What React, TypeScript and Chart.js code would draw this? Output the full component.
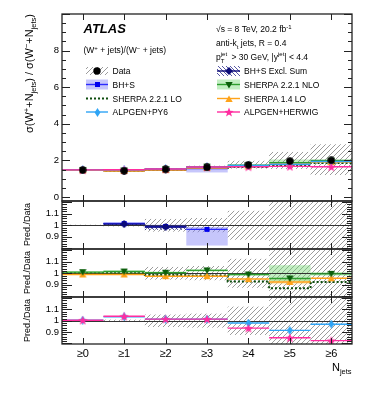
import React, { useEffect, useRef } from "react";
import { Chart, registerables } from "chart.js";

Chart.register(...registerables);

const FONT = "'Liberation Sans', Arial, Helvetica, sans-serif";
Chart.defaults.font.family = FONT;
Chart.defaults.color = "#000";

type V = number | null;

// ---------- categories and tick labels ----------
const categories = ["≥0", "≥1", "≥2", "≥3", "≥4", "≥5", "≥6"];
const mainTickLabels = [0, 2, 4, 6, 8];
const ratioTickLabels = [0.9, 1, 1.1];

// ---------- main panel: sigma(W+)/sigma(W-) ----------
const dataMain: V[] = [1.47, 1.43, 1.51, 1.62, 1.76, 1.96, 2.0];
const dataMainLo: V[] = [1.46, 1.41, 1.44, 1.53, 1.55, 1.53, 1.2];
const dataMainHi: V[] = [1.48, 1.45, 1.58, 1.71, 1.98, 2.46, 2.88];
const bhsMain: V[] = [null, 1.45, 1.5, 1.56, null, null, null];
const bhsMainLo: V[] = [null, 1.44, 1.48, 1.34, null, null, null];
const bhsMainHi: V[] = [null, 1.46, 1.52, 1.6, null, null, null];
const exclMain: V[] = [null, 1.44, 1.49, null, null, null, null];
const exclMainLo: V[] = [null, 1.43, 1.46, null, null, null, null];
const exclMainHi: V[] = [null, 1.46, 1.51, null, null, null, null];
const nloMain: V[] = [1.48, 1.45, 1.52, 1.66, 1.74, 1.87, 1.99];
const nloMainLo: V[] = [1.47, 1.44, 1.5, 1.64, 1.72, 1.8, 1.95];
const nloMainHi: V[] = [1.49, 1.46, 1.54, 1.68, 1.76, 2.05, 2.03];
const sherpaLoMain: V[] = [1.47, 1.43, 1.49, 1.59, 1.64, 1.71, 1.85];
const sherpa14Main: V[] = [1.46, 1.42, 1.47, 1.58, 1.67, 1.81, 1.91];
const py6Main: V[] = [1.48, 1.48, 1.53, 1.64, 1.72, 1.79, 1.94];
const herwigMain: V[] = [1.48, 1.49, 1.53, 1.64, 1.65, 1.67, 1.65];

// ---------- ratio panels: Pred./Data ----------
const dataRatioLo: V[] = [0.995, 0.99, 0.945, 0.94, 0.875, 0.7, 0.5];
const dataRatioHi: V[] = [1.005, 1.01, 1.055, 1.063, 1.125, 1.3, 1.5];
// panel 1
const bhsRatio: V[] = [null, 1.015, 0.99, 0.965, null, null, null];
const bhsRatioLo: V[] = [null, 1.005, 0.975, 0.825, null, null, null];
const bhsRatioHi: V[] = [null, 1.025, 1.005, 0.985, null, null, null];
const exclRatio: V[] = [null, 1.01, 0.985, null, null, null, null];
const exclRatioLo: V[] = [null, 1.0, 0.96, null, null, null, null];
const exclRatioHi: V[] = [null, 1.02, 1.0, null, null, null, null];
// panel 2
const nloRatio: V[] = [1.01, 1.015, 1.005, 1.025, 0.99, 0.955, 0.995];
const nloRatioLo: V[] = [1.0, 1.005, 0.995, 1.015, 0.98, 0.93, 0.98];
const nloRatioHi: V[] = [1.02, 1.025, 1.015, 1.035, 1.0, 1.07, 1.01];
const sherpaLoRatio: V[] = [1.0, 1.0, 0.985, 0.98, 0.93, 0.87, 0.925];
const sherpa14Ratio: V[] = [0.99, 0.99, 0.975, 0.975, 0.95, 0.925, 0.957];
const sherpa14RatioLo: V[] = [null, null, null, null, null, 0.905, null];
const sherpa14RatioHi: V[] = [null, null, null, null, null, 0.945, null];
// panel 3
const py6Ratio: V[] = [1.005, 1.035, 1.015, 1.015, 0.98, 0.915, 0.97];
const herwigRatio: V[] = [1.005, 1.04, 1.015, 1.015, 0.935, 0.85, 0.825];

// ---------- colours ----------
const C = {
  data: "#000000",
  bhs: "#2b2bff",
  bhsFill: "rgba(120,120,245,0.42)",
  excl: "#0a0a78",
  nlo: "#2e9e2e",
  nloMk: "#0b5e0b",
  nloFill: "rgba(110,215,110,0.42)",
  sLo: "#0d4d0d",
  s14: "#ffa31a",
  s14Fill: "rgba(255,200,90,0.35)",
  py6: "#2fa4f5",
  her: "#ff2da0",
};

// ---------- helpers ----------
function segs(vals: V[]) {
  const out: any[] = [];
  vals.forEach((v, i) => {
    if (v == null) return;
    out.push({ x: i - 0.5, y: v }, { x: i + 0.5, y: v }, { x: i + 0.5, y: null });
  });
  return out;
}
function steps(vals: V[]) {
  const out: any[] = [];
  vals.forEach((v, i) => {
    if (v == null) return;
    out.push({ x: i - 0.5, y: v }, { x: i + 0.5, y: v });
  });
  return out;
}
function pts(vals: V[]) {
  const out: any[] = [];
  vals.forEach((v, i) => {
    if (v != null) out.push({ x: i, y: v });
  });
  return out;
}
function lineDS(data: any[], color: string, width = 1.4, dash: number[] = []) {
  return {
    type: "line",
    data,
    borderColor: color,
    borderWidth: width,
    borderDash: dash,
    pointRadius: 0,
    fill: false,
    tension: 0,
    spanGaps: false,
  };
}
function markDS(vals: V[], img: HTMLCanvasElement) {
  return {
    type: "line",
    data: pts(vals),
    showLine: false,
    pointStyle: img,
    pointRadius: 4,
    borderWidth: 0,
  };
}

function makeMarker(kind: string, color: string, size: number): HTMLCanvasElement {
  const c = document.createElement("canvas");
  c.width = size;
  c.height = size;
  const g = c.getContext("2d")!;
  const h = size / 2;
  g.fillStyle = color;
  g.beginPath();
  if (kind === "circle") g.arc(h, h, h - 0.3, 0, Math.PI * 2);
  else if (kind === "square") g.rect(1, 1, size - 2, size - 2);
  else if (kind === "diamond") {
    g.moveTo(h, 0); g.lineTo(size, h); g.lineTo(h, size); g.lineTo(0, h); g.closePath();
  } else if (kind === "thin") {
    g.moveTo(h, 0); g.lineTo(h + size * 0.32, h); g.lineTo(h, size); g.lineTo(h - size * 0.32, h); g.closePath();
  } else if (kind === "up") {
    g.moveTo(h, 0.5); g.lineTo(size - 0.3, size - 1); g.lineTo(0.3, size - 1); g.closePath();
  } else if (kind === "down") {
    g.moveTo(0.3, 1); g.lineTo(size - 0.3, 1); g.lineTo(h, size - 0.5); g.closePath();
  } else if (kind === "star") {
    for (let k = 0; k < 10; k++) {
      const r = k % 2 === 0 ? h : h * 0.42;
      const a = -Math.PI / 2 + (k * Math.PI) / 5;
      const px = h + r * Math.cos(a);
      const py = h + 0.5 + r * Math.sin(a);
      if (k === 0) g.moveTo(px, py); else g.lineTo(px, py);
    }
    g.closePath();
  }
  g.fill();
  return c;
}

function makeHatch(color: string, tile: number, back: boolean, lw: number): CanvasPattern {
  const c = document.createElement("canvas");
  c.width = tile;
  c.height = tile;
  const g = c.getContext("2d")!;
  g.strokeStyle = color;
  g.lineWidth = lw;
  g.beginPath();
  if (!back) {
    g.moveTo(-1, tile + 1); g.lineTo(tile + 1, -1);
    g.moveTo(-1, 1); g.lineTo(1, -1);
    g.moveTo(tile - 1, tile + 1); g.lineTo(tile + 1, tile - 1);
  } else {
    g.moveTo(-1, -1); g.lineTo(tile + 1, tile + 1);
    g.moveTo(tile - 1, -1); g.lineTo(tile + 1, 1);
    g.moveTo(-1, tile - 1); g.lineTo(1, tile + 1);
  }
  g.stroke();
  const ctx = document.createElement("canvas").getContext("2d")!;
  return ctx.createPattern(c, "repeat")!;
}

type Part = { t: string; s: number; dy?: number; adv?: boolean; st?: string };
function rich(ctx: CanvasRenderingContext2D, x: number, y: number, parts: Part[]) {
  let cx = x;
  for (const p of parts) {
    ctx.font = `${p.st || ""}${p.s}px ${FONT}`;
    ctx.fillText(p.t, cx, y + (p.dy || 0));
    if (p.adv !== false) cx += ctx.measureText(p.t).width;
  }
}
function richWidth(ctx: CanvasRenderingContext2D, parts: Part[]) {
  let w = 0;
  for (const p of parts) {
    ctx.font = `${p.st || ""}${p.s}px ${FONT}`;
    if (p.adv !== false) w += ctx.measureText(p.t).width;
  }
  return w;
}
function rotTitle(ctx: CanvasRenderingContext2D, bx: number, topY: number, parts: Part[]) {
  ctx.save();
  ctx.translate(bx, topY);
  ctx.rotate(-Math.PI / 2);
  ctx.textAlign = "left";
  ctx.textBaseline = "alphabetic";
  ctx.fillStyle = "#000";
  const w = richWidth(ctx, parts);
  rich(ctx, -w, 0, parts);
  ctx.restore();
}

type Band = { lo: V[]; hi: V[]; fill: any };
type Panel = {
  padTop: number;
  padBottom: number;
  yMin: number;
  yMax: number;
  labels: number[];
  fmt: (v: number) => string;
  majorStep: number;
  minorStep: number;
  majorLen: number;
  minorLen: number;
  xTickLen: number;
  bands: Band[];
  unity: boolean;
  datasets: any[];
  bottom: boolean;
  extra?: (ctx: CanvasRenderingContext2D, chart: any) => void;
};

function buildChart(canvas: HTMLCanvasElement, p: Panel) {
  const decor = {
    id: "decor",
    beforeDatasetsDraw(chart: any) {
      const { ctx, chartArea: a } = chart;
      const x = chart.scales.x;
      const y = chart.scales.y;
      ctx.save();
      ctx.beginPath();
      ctx.rect(a.left, a.top, a.right - a.left, a.bottom - a.top);
      ctx.clip();
      for (const b of p.bands) {
        ctx.fillStyle = b.fill;
        b.lo.forEach((lo, i) => {
          const hi = b.hi[i];
          if (lo == null || hi == null) return;
          const x0 = x.getPixelForValue(i - 0.5);
          const x1 = x.getPixelForValue(i + 0.5);
          const y0 = y.getPixelForValue(hi);
          const y1 = y.getPixelForValue(lo);
          ctx.fillRect(x0, y0, x1 - x0, y1 - y0);
        });
      }
      if (p.unity) {
        const py = Math.round(y.getPixelForValue(1)) + 0.5;
        ctx.strokeStyle = "#333";
        ctx.lineWidth = 1;
        ctx.beginPath();
        ctx.moveTo(a.left, py);
        ctx.lineTo(a.right, py);
        ctx.stroke();
      }
      ctx.restore();
    },
    afterDatasetsDraw(chart: any) {
      const { ctx, chartArea: a } = chart;
      const x = chart.scales.x;
      const y = chart.scales.y;
      ctx.save();
      ctx.strokeStyle = "#222";
      ctx.lineWidth = 1;
      ctx.beginPath();
      categories.forEach((_, i) => {
        const px = Math.round(x.getPixelForValue(i)) + 0.5;
        ctx.moveTo(px, a.bottom);
        ctx.lineTo(px, a.bottom - p.xTickLen);
        ctx.moveTo(px, a.top);
        ctx.lineTo(px, a.top + p.xTickLen);
      });
      const start = Math.ceil(p.yMin / p.minorStep - 1e-6);
      const end = Math.floor(p.yMax / p.minorStep + 1e-6);
      for (let k = start; k <= end; k++) {
        const v = k * p.minorStep;
        const isMajor = Math.abs(v / p.majorStep - Math.round(v / p.majorStep)) < 1e-6;
        const len = isMajor ? p.majorLen : p.minorLen;
        const py = Math.round(y.getPixelForValue(v)) + 0.5;
        if (py < a.top || py > a.bottom) continue;
        ctx.moveTo(a.left, py);
        ctx.lineTo(a.left + len, py);
        ctx.moveTo(a.right, py);
        ctx.lineTo(a.right - len, py);
      }
      ctx.stroke();
      ctx.lineWidth = 1.3;
      ctx.strokeRect(a.left, a.top, a.right - a.left, a.bottom - a.top);
      ctx.restore();
    },
    afterDraw(chart: any) {
      if (p.extra) {
        const ctx = chart.ctx;
        ctx.save();
        p.extra(ctx, chart);
        ctx.restore();
      }
    },
  };

  return new Chart(canvas, {
    type: "line",
    data: { datasets: p.datasets.slice().reverse() as any },
    plugins: [decor],
    options: {
      responsive: false,
      animation: false,
      devicePixelRatio: 1,
      events: [],
      layout: { padding: { left: 0, right: 22, top: p.padTop, bottom: p.padBottom } },
      plugins: { legend: { display: false }, tooltip: { enabled: false } },
      scales: {
        x: {
          type: "linear",
          min: -0.5,
          max: 6.5,
          display: p.bottom,
          grid: { display: false, drawTicks: false },
          border: { display: false },
          afterBuildTicks: (s: any) => {
            s.ticks = categories.map((_, i) => ({ value: i }));
          },
          afterFit: (s: any) => {
            if (p.bottom) s.height = 30;
          },
          ticks: {
            autoSkip: false,
            maxRotation: 0,
            padding: 3,
            font: { size: 11, family: FONT },
            color: "#000",
            callback: (v: any) => categories[Math.round(Number(v))] ?? "",
          },
        },
        y: {
          type: "linear",
          min: p.yMin,
          max: p.yMax,
          grid: { display: false, drawTicks: false },
          border: { display: false },
          afterBuildTicks: (s: any) => {
            s.ticks = p.labels.map((v) => ({ value: v }));
          },
          afterFit: (s: any) => {
            s.width = 62;
          },
          ticks: {
            autoSkip: false,
            padding: 3,
            font: { size: 9.5, family: FONT },
            color: "#000",
            callback: (v: any) => p.fmt(Number(v)),
          },
        },
      },
    } as any,
  });
}

export default function App() {
  const r0 = useRef<HTMLCanvasElement>(null);
  const r1 = useRef<HTMLCanvasElement>(null);
  const r2 = useRef<HTMLCanvasElement>(null);
  const r3 = useRef<HTMLCanvasElement>(null);

  useEffect(() => {
    const hatch = makeHatch("#666666", 5, false, 0.65);
    const navyHatch = makeHatch("#101080", 4, true, 0.7);
    const mk = {
      data: makeMarker("circle", C.data, 8),
      bhs: makeMarker("square", "#0000ee", 7),
      excl: makeMarker("diamond", C.excl, 8),
      nlo: makeMarker("down", C.nloMk, 8),
      s14: makeMarker("up", C.s14, 8),
      py6: makeMarker("thin", C.py6, 9),
      her: makeMarker("star", C.her, 10),
    };
    const ratioFmt = (v: number) => (Math.abs(v - 1) < 1e-6 ? "1" : v.toFixed(1));

    const common = {
      majorStep: 0.1,
      minorStep: 0.02,
      majorLen: 10,
      minorLen: 5,
      xTickLen: 6,
      yMin: 0.795,
      yMax: 1.21,
      labels: ratioTickLabels,
      fmt: ratioFmt,
      unity: true,
    };

    const predTitle = (top: number) => (ctx: CanvasRenderingContext2D) => {
      rotTitle(ctx, 29.5, top + 2, [{ t: "Pred./Data", s: 9 }]);
    };

    const mainExtra = (ctx: CanvasRenderingContext2D) => {
      ctx.fillStyle = "#000";
      ctx.textAlign = "left";
      ctx.textBaseline = "alphabetic";
      rotTitle(ctx, 33, 14, [
        { t: "σ(W", s: 11 },
        { t: "+", s: 7.5, dy: -4.5 },
        { t: "+N", s: 11 },
        { t: "jets", s: 7.5, dy: 2.5 },
        { t: ") / σ(W", s: 11 },
        { t: "−", s: 7.5, dy: -4.5 },
        { t: "+N", s: 11 },
        { t: "jets", s: 7.5, dy: 2.5 },
        { t: ")", s: 11 },
      ]);
      rich(ctx, 83.5, 32.5, [{ t: "ATLAS", s: 13, st: "italic bold " }]);
      rich(ctx, 83.5, 53, [
        { t: "(W", s: 8.5 },
        { t: "+", s: 6, dy: -3.5 },
        { t: " + jets)/(W", s: 8.5 },
        { t: "−", s: 6, dy: -3.5 },
        { t: " + jets)", s: 8.5 },
      ]);
      rich(ctx, 216, 32, [
        { t: "√s = 8 TeV, 20.2 fb", s: 8.5 },
        { t: "-1", s: 6, dy: -3.5 },
      ]);
      rich(ctx, 216, 46, [
        { t: "anti-k", s: 8.5 },
        { t: "t", s: 6, dy: 2.5 },
        { t: " jets, R = 0.4", s: 8.5 },
      ]);
      rich(ctx, 216, 60, [
        { t: "p", s: 8.5 },
        { t: "jet", s: 6, dy: -4, adv: false },
        { t: "T", s: 6, dy: 3 },
        { t: "   > 30 GeV, |y", s: 8.5 },
        { t: "jet", s: 6, dy: -4 },
        { t: "| < 4.4", s: 8.5 },
      ]);

      const rows = [71, 84.5, 98.5, 112];
      const Lc = { x0: 86, x1: 108, tx: 112.5 };
      const Rc = { x0: 217, x1: 240, tx: 244 };
      const entry = (
        col: { x0: number; x1: number; tx: number },
        cy: number,
        label: string,
        o: { box?: any; bh?: number; line?: string; lw?: number; dash?: number[]; marker?: HTMLCanvasElement }
      ) => {
        if (o.box) {
          const bh = o.bh || 10;
          ctx.fillStyle = o.box;
          ctx.fillRect(col.x0, cy - bh / 2, col.x1 - col.x0, bh);
        }
        if (o.line) {
          ctx.strokeStyle = o.line;
          ctx.lineWidth = o.lw || 1.4;
          ctx.setLineDash(o.dash || []);
          ctx.beginPath();
          ctx.moveTo(col.x0, cy);
          ctx.lineTo(col.x1, cy);
          ctx.stroke();
          ctx.setLineDash([]);
        }
        if (o.marker) {
          const m = o.marker;
          const cx = (col.x0 + col.x1) / 2;
          ctx.drawImage(m, Math.round(cx - m.width / 2), Math.round(cy - m.height / 2));
        }
        ctx.fillStyle = "#000";
        ctx.font = `8.5px ${FONT}`;
        ctx.fillText(label, col.tx, cy + 3);
      };
      entry(Lc, rows[0], "Data", { box: hatch, bh: 8, marker: mk.data });
      entry(Lc, rows[1], "BH+S", { box: C.bhsFill, line: C.bhs, marker: mk.bhs });
      entry(Lc, rows[2], "SHERPA 2.2.1 LO", { line: C.sLo, lw: 2, dash: [2, 2] });
      entry(Lc, rows[3], "ALPGEN+PY6", { line: C.py6, marker: mk.py6 });
      entry(Rc, rows[0], "BH+S Excl. Sum", { box: navyHatch, line: C.excl, marker: mk.excl });
      entry(Rc, rows[1], "SHERPA 2.2.1 NLO", { box: C.nloFill, line: C.nlo, marker: mk.nlo });
      entry(Rc, rows[2], "SHERPA 1.4 LO", { line: C.s14, marker: mk.s14 });
      entry(Rc, rows[3], "ALPGEN+HERWIG", { line: C.her, marker: mk.her });
    };

    const main: Panel = {
      padTop: 14,
      padBottom: 195,
      yMin: -0.22,
      yMax: 10,
      labels: mainTickLabels,
      fmt: (v) => String(v),
      majorStep: 2,
      minorStep: 0.5,
      majorLen: 8,
      minorLen: 4,
      xTickLen: 6,
      unity: false,
      bottom: false,
      bands: [
        { lo: nloMainLo, hi: nloMainHi, fill: C.nloFill },
        { lo: bhsMainLo, hi: bhsMainHi, fill: C.bhsFill },
        { lo: exclMainLo, hi: exclMainHi, fill: navyHatch },
        { lo: dataMainLo, hi: dataMainHi, fill: hatch },
      ],
      datasets: [
        lineDS(steps(sherpaLoMain), C.sLo, 2, [2, 2]),
        lineDS(segs(bhsMain), C.bhs),
        lineDS(segs(exclMain), C.excl),
        lineDS(segs(nloMain), C.nlo),
        lineDS(segs(sherpa14Main), C.s14),
        lineDS(segs(py6Main), C.py6),
        lineDS(segs(herwigMain), C.her),
        markDS(exclMain, mk.excl),
        markDS(bhsMain, mk.bhs),
        markDS(nloMain, mk.nlo),
        markDS(sherpa14Main, mk.s14),
        markDS(py6Main, mk.py6),
        markDS(herwigMain, mk.her),
        markDS(dataMain, mk.data),
      ],
      extra: mainExtra,
    };

    const p1: Panel = {
      ...common,
      padTop: 201,
      padBottom: 147,
      bottom: false,
      bands: [
        { lo: dataRatioLo, hi: dataRatioHi, fill: hatch },
        { lo: bhsRatioLo, hi: bhsRatioHi, fill: C.bhsFill },
        { lo: exclRatioLo, hi: exclRatioHi, fill: navyHatch },
      ],
      datasets: [
        lineDS(segs(bhsRatio), C.bhs),
        lineDS(segs(exclRatio), C.excl),
        markDS(bhsRatio, mk.bhs),
        markDS(exclRatio, mk.excl),
      ],
      extra: predTitle(201),
    };

    const p2: Panel = {
      ...common,
      padTop: 249,
      padBottom: 99,
      bottom: false,
      bands: [
        { lo: dataRatioLo, hi: dataRatioHi, fill: hatch },
        { lo: sherpa14RatioLo, hi: sherpa14RatioHi, fill: C.s14Fill },
        { lo: nloRatioLo, hi: nloRatioHi, fill: C.nloFill },
      ],
      datasets: [
        lineDS(steps(sherpaLoRatio), C.sLo, 2, [2, 2]),
        lineDS(segs(sherpa14Ratio), C.s14),
        lineDS(segs(nloRatio), C.nlo),
        markDS(sherpa14Ratio, mk.s14),
        markDS(nloRatio, mk.nlo),
      ],
      extra: predTitle(249),
    };

    const p3: Panel = {
      ...common,
      padTop: 297,
      padBottom: 22,
      bottom: true,
      bands: [{ lo: dataRatioLo, hi: dataRatioHi, fill: hatch }],
      datasets: [
        lineDS(segs(py6Ratio), C.py6),
        lineDS(segs(herwigRatio), C.her),
        markDS(py6Ratio, mk.py6),
        markDS(herwigRatio, mk.her),
      ],
      extra: (ctx) => {
        rotTitle(ctx, 29.5, 299, [{ t: "Pred./Data", s: 9 }]);
        ctx.fillStyle = "#000";
        ctx.textAlign = "left";
        ctx.textBaseline = "alphabetic";
        rich(ctx, 332, 371, [
          { t: "N", s: 11 },
          { t: "jets", s: 7.5, dy: 3 },
        ]);
      },
    };

    const charts = [
      buildChart(r0.current!, main),
      buildChart(r1.current!, p1),
      buildChart(r2.current!, p2),
      buildChart(r3.current!, p3),
    ];
    return () => charts.forEach((c) => c.destroy());
  }, []);

  const cs: React.CSSProperties = { position: "absolute", left: 0, top: 0 };
  return (
    <div style={{ position: "absolute", left: 0, top: 0, width: 374, height: 396, background: "#fff" }}>
      <canvas ref={r0} width={374} height={396} style={cs} />
      <canvas ref={r1} width={374} height={396} style={cs} />
      <canvas ref={r2} width={374} height={396} style={cs} />
      <canvas ref={r3} width={374} height={396} style={cs} />
    </div>
  );
}
